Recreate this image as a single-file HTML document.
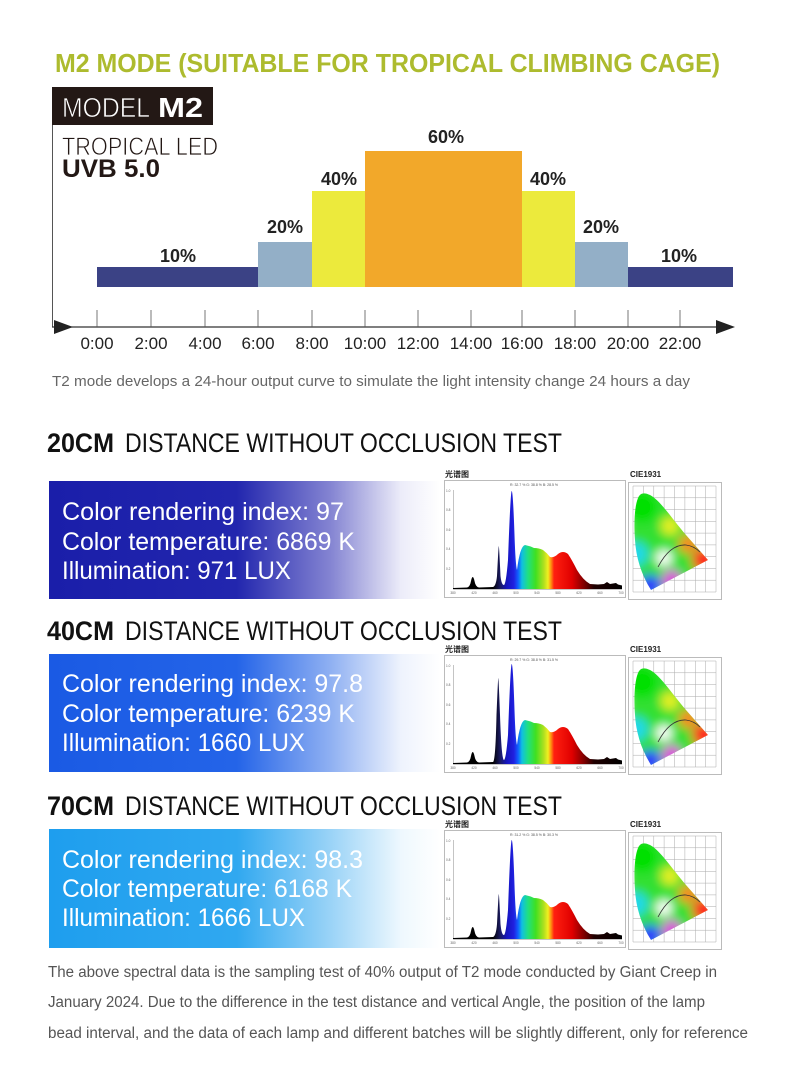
<!DOCTYPE html>
<html><head><meta charset="utf-8"><style>
html,body{margin:0;padding:0;background:#fff;}
svg{display:block;}
text{font-family:"Liberation Sans","Noto Sans CJK SC",sans-serif;}
</style></head><body>
<svg width="790" height="1078" viewBox="0 0 790 1078" xmlns="http://www.w3.org/2000/svg">
<defs>
  <linearGradient id="g1" gradientUnits="userSpaceOnUse" x1="49" y1="0" x2="440" y2="0">
    <stop offset="0" stop-color="#1a1ea9"/>
    <stop offset="0.48" stop-color="#2226ae"/>
    <stop offset="0.72" stop-color="#8484d2"/>
    <stop offset="0.9" stop-color="#ececf9"/>
    <stop offset="1" stop-color="#ffffff"/>
  </linearGradient>
  <linearGradient id="g2" gradientUnits="userSpaceOnUse" x1="49" y1="0" x2="440" y2="0">
    <stop offset="0" stop-color="#1a5ae4"/>
    <stop offset="0.48" stop-color="#2464e8"/>
    <stop offset="0.72" stop-color="#8fb0f2"/>
    <stop offset="0.9" stop-color="#eef3fd"/>
    <stop offset="1" stop-color="#ffffff"/>
  </linearGradient>
  <linearGradient id="g3" gradientUnits="userSpaceOnUse" x1="49" y1="0" x2="440" y2="0">
    <stop offset="0" stop-color="#1e9eee"/>
    <stop offset="0.48" stop-color="#30a8f0"/>
    <stop offset="0.72" stop-color="#9ad3f7"/>
    <stop offset="0.9" stop-color="#eef8fe"/>
    <stop offset="1" stop-color="#ffffff"/>
  </linearGradient>
  <linearGradient id="spec" gradientUnits="userSpaceOnUse" x1="9" y1="0" x2="178" y2="0">
    <stop offset="0" stop-color="#000"/>
    <stop offset="0.237" stop-color="#000"/>
    <stop offset="0.278" stop-color="#1a1a60"/>
    <stop offset="0.319" stop-color="#1515c0"/>
    <stop offset="0.36" stop-color="#2020e0"/>
    <stop offset="0.385" stop-color="#1060ff"/>
    <stop offset="0.408" stop-color="#10c0e0"/>
    <stop offset="0.444" stop-color="#20e080"/>
    <stop offset="0.49" stop-color="#40e020"/>
    <stop offset="0.538" stop-color="#b0e020"/>
    <stop offset="0.562" stop-color="#f0f020"/>
    <stop offset="0.58" stop-color="#ff9010"/>
    <stop offset="0.598" stop-color="#ff2010"/>
    <stop offset="0.704" stop-color="#e00000"/>
    <stop offset="0.775" stop-color="#800000"/>
    <stop offset="0.834" stop-color="#200000"/>
    <stop offset="1" stop-color="#000"/>
  </linearGradient>
  <clipPath id="horse">
    <path d="M23,108 L80,78 L58,53 C45,38 32,18 22,13 C16,10 12,11 10,16 C6,26 6,45 7,58 C8,75 13,92 23,108 Z"/>
  </clipPath>
  <filter id="bl" x="-50%" y="-50%" width="200%" height="200%">
    <feGaussianBlur stdDeviation="5"/>
  </filter>
  <g id="cie">
    <rect x="0.5" y="0.5" width="93" height="117" fill="#fff" stroke="#bbb" stroke-width="1"/>
    <g stroke="#aaa" stroke-width="0.5">
      <line x1="5" y1="4" x2="5" y2="110"/><line x1="15.4" y1="4" x2="15.4" y2="110"/>
      <line x1="25.8" y1="4" x2="25.8" y2="110"/><line x1="36.1" y1="4" x2="36.1" y2="110"/>
      <line x1="46.5" y1="4" x2="46.5" y2="110"/><line x1="56.9" y1="4" x2="56.9" y2="110"/>
      <line x1="67.3" y1="4" x2="67.3" y2="110"/><line x1="77.6" y1="4" x2="77.6" y2="110"/>
      <line x1="88" y1="4" x2="88" y2="110"/>
      <line x1="5" y1="4" x2="88" y2="4"/><line x1="5" y1="15.8" x2="88" y2="15.8"/>
      <line x1="5" y1="27.6" x2="88" y2="27.6"/><line x1="5" y1="39.3" x2="88" y2="39.3"/>
      <line x1="5" y1="51.1" x2="88" y2="51.1"/><line x1="5" y1="62.9" x2="88" y2="62.9"/>
      <line x1="5" y1="74.7" x2="88" y2="74.7"/><line x1="5" y1="86.4" x2="88" y2="86.4"/>
      <line x1="5" y1="98.2" x2="88" y2="98.2"/><line x1="5" y1="110" x2="88" y2="110"/>
    </g>
    <g clip-path="url(#horse)">
      <g filter="url(#bl)">
        <rect x="0" y="0" width="94" height="118" fill="#30e030"/>
        <circle cx="14" cy="25" r="16" fill="#00e000"/>
        <circle cx="8" cy="72" r="12" fill="#20d8e8"/>
        <circle cx="22" cy="104" r="11" fill="#3030ff"/>
        <circle cx="44" cy="98" r="10" fill="#e040e0"/>
        <circle cx="76" cy="78" r="12" fill="#ff2020"/>
        <circle cx="60" cy="62" r="9" fill="#ff8020"/>
        <circle cx="42" cy="44" r="9" fill="#e8f020"/>
        <circle cx="36" cy="76" r="8" fill="#ffffff"/>
      </g>
    </g>
    <path d="M30,85 Q42,62 58,63 Q66,64 72,70" fill="none" stroke="#333" stroke-width="0.8"/>
  </g>
</defs>

<!-- Title -->
<text x="55" y="72" font-size="26" font-weight="bold" fill="#adbb2e" textLength="665" lengthAdjust="spacingAndGlyphs">M2 MODE (SUITABLE FOR TROPICAL CLIMBING CAGE)</text>

<!-- Model box -->
<rect x="52" y="87" width="161" height="38" fill="#231815"/>
<text x="62" y="117" font-size="28" fill="#fff" stroke="#231815" stroke-width="0.7" textLength="88" lengthAdjust="spacingAndGlyphs">MODEL</text>
<text x="158" y="117" font-size="28" font-weight="bold" fill="#fff" textLength="45" lengthAdjust="spacingAndGlyphs">M2</text>
<line x1="52.5" y1="125" x2="52.5" y2="327" stroke="#555" stroke-width="1"/>
<text x="62" y="155" font-size="25" fill="#231815" stroke="#fff" stroke-width="0.7" textLength="156" lengthAdjust="spacingAndGlyphs">TROPICAL LED</text>
<text x="62" y="177" font-size="25" font-weight="bold" fill="#231815" textLength="98" lengthAdjust="spacingAndGlyphs">UVB 5.0</text>

<!-- Bars -->
<rect x="97" y="267" width="161" height="20" fill="#3b4285"/>
<rect x="258" y="242" width="54" height="45" fill="#93afc7"/>
<rect x="312" y="191" width="53" height="96" fill="#ecea3c"/>
<rect x="365" y="151" width="157" height="136" fill="#f2a82a"/>
<rect x="522" y="191" width="53" height="96" fill="#ecea3c"/>
<rect x="575" y="242" width="53" height="45" fill="#93afc7"/>
<rect x="628" y="267" width="105" height="20" fill="#3b4285"/>

<g font-size="18" font-weight="bold" fill="#222" text-anchor="middle">
  <text x="178" y="262">10%</text>
  <text x="285" y="233">20%</text>
  <text x="339" y="185">40%</text>
  <text x="446" y="143">60%</text>
  <text x="548" y="185">40%</text>
  <text x="601" y="233">20%</text>
  <text x="679" y="262">10%</text>
</g>

<!-- Axis -->
<line x1="52" y1="327" x2="725" y2="327" stroke="#333" stroke-width="1.2"/>
<polygon points="54,320 73,327 54,334" fill="#222"/>
<polygon points="716,320 735,327 716,334" fill="#222"/>
<g stroke="#555" stroke-width="0.8">
  <line x1="97" y1="310" x2="97" y2="327"/><line x1="151" y1="310" x2="151" y2="327"/>
  <line x1="205" y1="310" x2="205" y2="327"/><line x1="258" y1="310" x2="258" y2="327"/>
  <line x1="312" y1="310" x2="312" y2="327"/><line x1="365" y1="310" x2="365" y2="327"/>
  <line x1="418" y1="310" x2="418" y2="327"/><line x1="471" y1="310" x2="471" y2="327"/>
  <line x1="522" y1="310" x2="522" y2="327"/><line x1="575" y1="310" x2="575" y2="327"/>
  <line x1="628" y1="310" x2="628" y2="327"/><line x1="680" y1="310" x2="680" y2="327"/>
</g>
<g font-size="17" fill="#222" text-anchor="middle">
  <text x="97" y="349">0:00</text><text x="151" y="349">2:00</text>
  <text x="205" y="349">4:00</text><text x="258" y="349">6:00</text>
  <text x="312" y="349">8:00</text><text x="365" y="349">10:00</text>
  <text x="418" y="349">12:00</text><text x="471" y="349">14:00</text>
  <text x="522" y="349">16:00</text><text x="575" y="349">18:00</text>
  <text x="628" y="349">20:00</text><text x="680" y="349">22:00</text>
</g>
<text x="52" y="386" font-size="15" fill="#666" textLength="638" lengthAdjust="spacingAndGlyphs">T2 mode develops a 24-hour output curve to simulate the light intensity change 24 hours a day</text>

<!-- Headings -->
<g font-size="27" fill="#111">
  <text x="47" y="452" font-weight="bold" textLength="67" lengthAdjust="spacingAndGlyphs">20CM</text>
  <text x="125" y="452" textLength="437" lengthAdjust="spacingAndGlyphs">DISTANCE WITHOUT OCCLUSION TEST</text>
  <text x="47" y="640" font-weight="bold" textLength="67" lengthAdjust="spacingAndGlyphs">40CM</text>
  <text x="125" y="640" textLength="437" lengthAdjust="spacingAndGlyphs">DISTANCE WITHOUT OCCLUSION TEST</text>
  <text x="47" y="815" font-weight="bold" textLength="67" lengthAdjust="spacingAndGlyphs">70CM</text>
  <text x="125" y="815" textLength="437" lengthAdjust="spacingAndGlyphs">DISTANCE WITHOUT OCCLUSION TEST</text>
</g>

<!-- Panels -->
<rect x="49" y="481" width="391" height="118" fill="url(#g1)"/>
<rect x="49" y="654" width="391" height="118" fill="url(#g2)"/>
<rect x="49" y="829" width="391" height="119" fill="url(#g3)"/>
<g font-size="25" fill="#fff">
  <text x="62" y="520" textLength="282" lengthAdjust="spacingAndGlyphs">Color rendering index: 97</text>
  <text x="62" y="550" textLength="293" lengthAdjust="spacingAndGlyphs">Color temperature: 6869 K</text>
  <text x="62" y="579" textLength="229" lengthAdjust="spacingAndGlyphs">Illumination: 971 LUX</text>
  <text x="62" y="692" textLength="301" lengthAdjust="spacingAndGlyphs">Color rendering index: 97.8</text>
  <text x="62" y="722" textLength="293" lengthAdjust="spacingAndGlyphs">Color temperature: 6239 K</text>
  <text x="62" y="751" textLength="243" lengthAdjust="spacingAndGlyphs">Illumination: 1660 LUX</text>
  <text x="62" y="868" textLength="301" lengthAdjust="spacingAndGlyphs">Color rendering index: 98.3</text>
  <text x="62" y="897" textLength="290" lengthAdjust="spacingAndGlyphs">Color temperature: 6168 K</text>
  <text x="62" y="926" textLength="243" lengthAdjust="spacingAndGlyphs">Illumination: 1666 LUX</text>
</g>

<!-- Spectrum 1 -->
<g transform="translate(444,480)">
  <text x="1" y="-3" font-size="8" font-weight="bold" fill="#222">光谱图</text>
  <rect x="0.5" y="0.5" width="181" height="117" fill="#fff" stroke="#bbb" stroke-width="1"/>
  <text x="90" y="6" font-size="3.5" fill="#555" text-anchor="middle">R: 32.7 %  G: 38.8 %  B: 28.5 %</text>
  <g font-size="3.2" fill="#666"><text x="2" y="12">1.0</text><text x="2" y="31">0.8</text><text x="2" y="51">0.6</text><text x="2" y="70">0.4</text><text x="2" y="90">0.2</text></g>
  <g font-size="3.2" fill="#666" text-anchor="middle"><text x="9" y="114">380</text><text x="30" y="114">420</text><text x="51" y="114">460</text><text x="72" y="114">500</text><text x="93" y="114">540</text><text x="114" y="114">580</text><text x="135" y="114">620</text><text x="156" y="114">660</text><text x="177" y="114">700</text></g>
  <path d="M9.5,10 V109.5 H178" fill="none" stroke="#888" stroke-width="0.5"/>
  <path fill="url(#spec)" d="M9,109 L9,108 L23,107.5 Q26,107 27,101 Q28.7,93 30.5,101 Q31.5,107 35,107.5 L49,107 Q52,106 53,96 Q54.5,66 54.8,66 Q55.1,66 56.5,96 Q57.5,105 60,105 Q62,104 64,80 Q66.5,11 67.7,11 Q69,11 70.5,55 Q71.5,85 73,90 Q76,66 81,65 Q86,66 90,68 Q95,68 99,70 Q103,73 106,77 Q110,78 114,74 Q119,70 124,74 Q128,80 133,90 Q139,100 146,104 L154,104.5 L160,104 L163,102 L166,104 L172,103 L174,104.5 L178,105.5 L178,109 Z"/>
</g>
<g transform="translate(628,482)">
  <text x="2" y="-5" font-size="8" font-weight="bold" fill="#222" font-family="Liberation Serif, serif">CIE1931</text>
  <use href="#cie"/>
</g>

<!-- Spectrum 2 -->
<g transform="translate(444,655)">
  <text x="1" y="-3" font-size="8" font-weight="bold" fill="#222">光谱图</text>
  <rect x="0.5" y="0.5" width="181" height="117" fill="#fff" stroke="#bbb" stroke-width="1"/>
  <text x="90" y="6" font-size="3.5" fill="#555" text-anchor="middle">R: 29.7 %  G: 38.8 %  B: 31.5 %</text>
  <g font-size="3.2" fill="#666"><text x="2" y="12">1.0</text><text x="2" y="31">0.8</text><text x="2" y="51">0.6</text><text x="2" y="70">0.4</text><text x="2" y="90">0.2</text></g>
  <g font-size="3.2" fill="#666" text-anchor="middle"><text x="9" y="114">380</text><text x="30" y="114">420</text><text x="51" y="114">460</text><text x="72" y="114">500</text><text x="93" y="114">540</text><text x="114" y="114">580</text><text x="135" y="114">620</text><text x="156" y="114">660</text><text x="177" y="114">700</text></g>
  <path d="M9.5,10 V109.5 H178" fill="none" stroke="#888" stroke-width="0.5"/>
  <path fill="url(#spec)" d="M9,109 L9,108 L23,107.5 Q26,107 27,101 Q28.7,93 30.5,101 Q31.5,107 35,107.5 L49,107 Q51.5,106 52.5,60 Q54,23 54.3,23 Q54.6,23 56,60 Q57.5,105 60,105 Q62,104 64,80 Q66.5,9 67.7,9 Q69,9 70.5,55 Q71.5,85 73,90 Q76,66 81,65 Q86,66 90,68 Q95,68 99,70 Q103,73 106,77 Q110,78 114,74 Q119,70 124,74 Q128,80 133,90 Q139,100 146,104 L154,104.5 L160,104 L163,102 L166,104 L172,103 L174,104.5 L178,105.5 L178,109 Z"/>
</g>
<g transform="translate(628,657)">
  <text x="2" y="-5" font-size="8" font-weight="bold" fill="#222" font-family="Liberation Serif, serif">CIE1931</text>
  <use href="#cie"/>
</g>

<!-- Spectrum 3 -->
<g transform="translate(444,830)">
  <text x="1" y="-3" font-size="8" font-weight="bold" fill="#222">光谱图</text>
  <rect x="0.5" y="0.5" width="181" height="117" fill="#fff" stroke="#bbb" stroke-width="1"/>
  <text x="90" y="6" font-size="3.5" fill="#555" text-anchor="middle">R: 31.2 %  G: 38.5 %  B: 30.3 %</text>
  <g font-size="3.2" fill="#666"><text x="2" y="12">1.0</text><text x="2" y="31">0.8</text><text x="2" y="51">0.6</text><text x="2" y="70">0.4</text><text x="2" y="90">0.2</text></g>
  <g font-size="3.2" fill="#666" text-anchor="middle"><text x="9" y="114">380</text><text x="30" y="114">420</text><text x="51" y="114">460</text><text x="72" y="114">500</text><text x="93" y="114">540</text><text x="114" y="114">580</text><text x="135" y="114">620</text><text x="156" y="114">660</text><text x="177" y="114">700</text></g>
  <path d="M9.5,10 V109.5 H178" fill="none" stroke="#888" stroke-width="0.5"/>
  <path fill="url(#spec)" d="M9,109 L9,108 L23,107.5 Q26,107 27,101 Q28.7,93 30.5,101 Q31.5,107 35,107.5 L49,107 Q52,106 53,94 Q54.5,64 54.8,64 Q55.1,64 56.5,94 Q57.5,105 60,105 Q62,104 64,80 Q66.5,10 67.7,10 Q69,10 70.5,55 Q71.5,85 73,90 Q76,66 81,65 Q86,66 90,68 Q95,68 99,70 Q103,73 106,77 Q110,78 114,74 Q119,70 124,74 Q128,80 133,90 Q139,100 146,104 L154,104.5 L160,104 L163,102 L166,104 L172,103 L174,104.5 L178,105.5 L178,109 Z"/>
</g>
<g transform="translate(628,832)">
  <text x="2" y="-5" font-size="8" font-weight="bold" fill="#222" font-family="Liberation Serif, serif">CIE1931</text>
  <use href="#cie"/>
</g>

<!-- Footer paragraph -->
<g font-size="15.5" fill="#555">
  <text x="48" y="977" textLength="669" lengthAdjust="spacingAndGlyphs">The above spectral data is the sampling test of 40% output of T2 mode conducted by Giant Creep in</text>
  <text x="48" y="1007" textLength="657" lengthAdjust="spacingAndGlyphs">January 2024. Due to the difference in the test distance and vertical Angle, the position of the lamp</text>
  <text x="48" y="1038" textLength="700" lengthAdjust="spacingAndGlyphs">bead interval, and the data of each lamp and different batches will be slightly different, only for reference</text>
</g>
</svg>
</body></html>
